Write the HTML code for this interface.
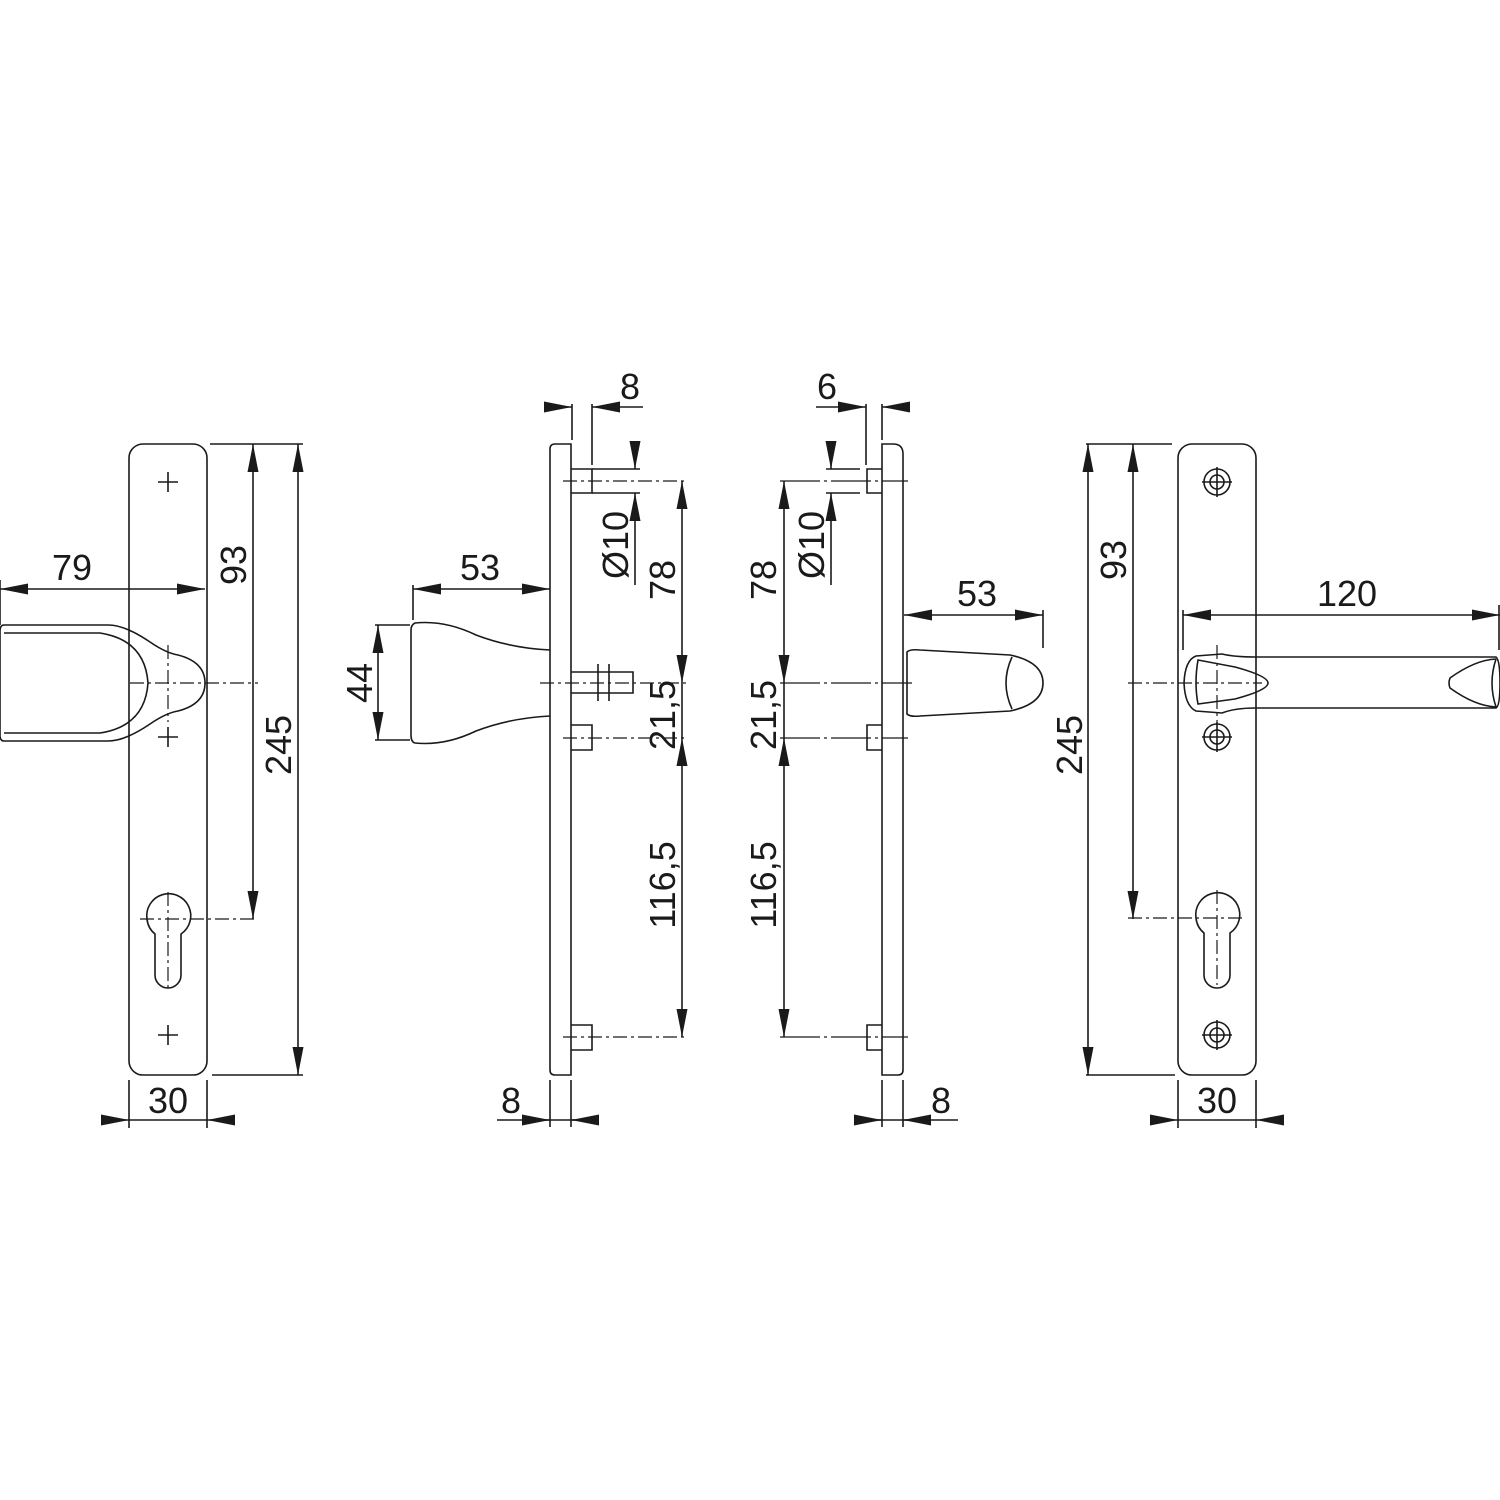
<!DOCTYPE html>
<html><head><meta charset="utf-8"><style>
html,body{margin:0;padding:0;background:#fff}
svg{display:block}
text{font-family:"Liberation Sans",sans-serif;font-size:36px;fill:#1a1a1a}
</style></head><body>
<svg width="1500" height="1500" viewBox="0 0 1500 1500" xmlns="http://www.w3.org/2000/svg">
<defs>
<marker id="a" viewBox="0 0 28 11" refX="28" refY="5.5" markerWidth="28" markerHeight="11" markerUnits="userSpaceOnUse" orient="auto-start-reverse"><path d="M0,0L28,5.5L0,11z" fill="#1a1a1a"/></marker>
</defs>
<g fill="none" stroke="#1a1a1a" stroke-width="1.6">
<!-- FIG 1 -->
<rect x="129" y="444" width="78" height="631" rx="14"/>
<path d="M158,482h20M168,472v20M158,737h20M168,727v20M158,1035h20M168,1025v20"/>
<path d="M4,625 H108 Q125,625 150,642 Q166,653 178,655 Q205,662 205,683 Q205,704 178,711 Q166,713 150,724 Q125,741 108,741 H4 Q0,741 0,735 V631 Q0,625 4,625Z"/>
<path d="M4,633 H100 Q145,640 148,683 Q145,726 100,733 H4"/>
<path d="M147,919 A22,22 0 1,1 181,934 V975 A13,13 0 0,1 155,975 V934 A22,22 0 0,1 147,919Z"/>
<g stroke-dasharray="14,4,3,4" stroke-width="1.2"><path d="M130,683H258M168,645V722M140,919H258M168,892V988"/></g>
<path d="M210,444H303M212,1075H303"/>
<path d="M253,444V683M253,683V919" marker-start="url(#a)" marker-end="url(#a)"/>
<path d="M298,444V1075" marker-start="url(#a)" marker-end="url(#a)"/>
<path d="M0,589H205" marker-start="url(#a)" marker-end="url(#a)"/>
<path d="M0,580V625"/>
<path d="M129,1080V1128M207,1080V1128M129,1120H207"/>
<path d="M104,1120H129" marker-end="url(#a)"/><path d="M232,1120H207" marker-end="url(#a)"/>
<!-- FIG 2 -->
<path d="M571,444V1075H555Q550,1075 550,1070V449Q550,444 555,444Z"/>
<path d="M571,469H592V493H571M571,725H592V750H571M571,1025H592V1050H571"/>
<path d="M571,672H633V693H571M598,664V701M609,664V701"/>
<path d="M550,650 Q510,648 476,635 Q445,620 415,623 Q411,625 411,630 V735 Q411,742 415,743 Q445,746 476,731 Q510,718 550,716"/>
<g stroke-dasharray="14,4,3,4" stroke-width="1.2"><path d="M540,683H688M563,481H688M563,738H688M563,1037H688"/></g>
<path d="M592,469H640M592,493H640"/>
<path d="M572,404V440M592,404V465"/>
<path d="M546,407H572" marker-end="url(#a)"/>
<path d="M643,407H592" marker-end="url(#a)"/>
<path d="M635,443V469" marker-end="url(#a)"/><path d="M635,585V493" marker-end="url(#a)"/>
<path d="M682,481V683" marker-start="url(#a)" marker-end="url(#a)"/>
<path d="M682,738V1037" marker-start="url(#a)" marker-end="url(#a)"/>
<path d="M682,683V738"/>
<path d="M413,585V620"/>
<path d="M413,589H550" marker-start="url(#a)" marker-end="url(#a)"/>
<path d="M375,625H410M375,740H410"/>
<path d="M378,625V740" marker-start="url(#a)" marker-end="url(#a)"/>
<path d="M550,1080V1127M571,1080V1127M497,1120H596"/>
<path d="M522,1120H550" marker-end="url(#a)"/><path d="M599,1120H571" marker-end="url(#a)"/>
<!-- FIG 3 -->
<path d="M882,444V1075H898Q903,1075 903,1070V454Q903,444 893,444Z"/>
<path d="M882,469H867V493H882M882,725H867V750H882M882,1025H867V1050H882"/>
<path d="M907,652 Q910,649 920,650 L1010,655 Q1043,662 1043,683 Q1043,704 1010,711 L920,716 Q910,717 907,714Z M1012,657 Q1000,683 1012,709"/>
<g stroke-dasharray="40,4,3,4" stroke-width="1.2"><path d="M780,481H908M780,683H912M780,738H908M780,1037H908"/></g>
<path d="M826,469H860M826,493H860"/>
<path d="M866,404V465M882,404V440"/>
<path d="M816,407H866" marker-end="url(#a)"/><path d="M910,407H882" marker-end="url(#a)"/>
<path d="M831,443V469" marker-end="url(#a)"/><path d="M831,585V493" marker-end="url(#a)"/>
<path d="M784,481V683" marker-start="url(#a)" marker-end="url(#a)"/>
<path d="M784,738V1037" marker-start="url(#a)" marker-end="url(#a)"/>
<path d="M784,683V738"/>
<path d="M1043,610V648"/>
<path d="M904,615H1043" marker-start="url(#a)" marker-end="url(#a)"/>
<path d="M882,1080V1127M903,1080V1127M856,1120H958"/>
<path d="M854,1120H882" marker-end="url(#a)"/><path d="M931,1120H903" marker-end="url(#a)"/>
<!-- FIG 4 -->
<rect x="1178" y="444" width="78" height="631" rx="14"/>
<g><circle cx="1217" cy="482" r="13"/><circle cx="1217" cy="482" r="7"/><path d="M1202,482h30M1217,467v30"/>
<circle cx="1217" cy="737" r="13"/><circle cx="1217" cy="737" r="7"/><path d="M1202,737h30M1217,722v30"/>
<circle cx="1217" cy="1035" r="13"/><circle cx="1217" cy="1035" r="7"/><path d="M1202,1035h30M1217,1020v30"/></g>
<path d="M1196,918 A22,22 0 1,1 1230,933 V975 A13,13 0 0,1 1204,975 V933 A22,22 0 0,1 1196,918Z"/>
<path d="M1196,656 Q1185,660 1184,683 Q1185,706 1196,711 L1222,713 Q1235,708 1255,708 H1496 Q1500,706 1500,683 Q1500,660 1496,657 H1255 Q1235,657 1222,654 Z"/>
<path d="M1198,660 Q1194,683 1198,704 L1235,699 Q1268,690 1268,683 Q1268,676 1235,667 Z"/>
<path d="M1496,659 Q1475,660 1450,678 Q1448,683 1450,688 Q1475,706 1496,707 Q1488,683 1496,659"/>
<g stroke-dasharray="14,4,3,4" stroke-width="1.2"><path d="M1128,683H1262M1217,645V722M1128,918H1245M1217,890V985"/></g>
<path d="M1086,444H1172M1086,1075H1175"/>
<path d="M1133,444V683M1133,683V919" marker-start="url(#a)" marker-end="url(#a)"/>
<path d="M1088,444V1075" marker-start="url(#a)" marker-end="url(#a)"/>
<path d="M1183,615H1500" marker-start="url(#a)" marker-end="url(#a)"/>
<path d="M1183,610V650M1499,605V650"/>
<path d="M1178,1080V1128M1256,1080V1128M1178,1120H1256"/>
<path d="M1151,1120H1178" marker-end="url(#a)"/><path d="M1283,1120H1256" marker-end="url(#a)"/>
</g>
<!-- text -->
<text x="72" y="580" text-anchor="middle">79</text>
<text x="168" y="1113" text-anchor="middle">30</text>
<text transform="translate(246,565) rotate(-90)" text-anchor="middle">93</text>
<text transform="translate(291,745) rotate(-90)" text-anchor="middle">245</text>
<text x="630" y="399" text-anchor="middle">8</text>
<text x="480" y="580" text-anchor="middle">53</text>
<text transform="translate(372,683) rotate(-90)" text-anchor="middle">44</text>
<text transform="translate(628,545) rotate(-90)" text-anchor="middle">Ø10</text>
<text transform="translate(675,580) rotate(-90)" text-anchor="middle">78</text>
<text transform="translate(675,715) rotate(-90)" text-anchor="middle">21,5</text>
<text transform="translate(675,885) rotate(-90)" text-anchor="middle">116,5</text>
<text x="511" y="1113" text-anchor="middle">8</text>
<text x="827" y="399" text-anchor="middle">6</text>
<text transform="translate(824,545) rotate(-90)" text-anchor="middle">Ø10</text>
<text transform="translate(776,580) rotate(-90)" text-anchor="middle">78</text>
<text transform="translate(776,715) rotate(-90)" text-anchor="middle">21,5</text>
<text transform="translate(776,885) rotate(-90)" text-anchor="middle">116,5</text>
<text x="977" y="606" text-anchor="middle">53</text>
<text x="941" y="1113" text-anchor="middle">8</text>
<text transform="translate(1126,560) rotate(-90)" text-anchor="middle">93</text>
<text transform="translate(1082,745) rotate(-90)" text-anchor="middle">245</text>
<text x="1347" y="606" text-anchor="middle">120</text>
<text x="1217" y="1113" text-anchor="middle">30</text>
</svg>
</body></html>
